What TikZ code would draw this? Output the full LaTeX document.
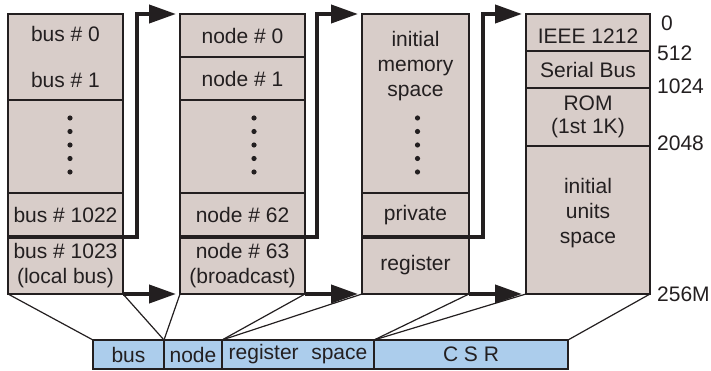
\documentclass[tikz,border=0pt]{standalone}
\usepackage{fontspec}
\setmainfont{Liberation Sans}
\usetikzlibrary{arrows.meta,calc,positioning}
\definecolor{cellfill}{RGB}{216,205,201}
\definecolor{barfill}{RGB}{172,205,236}
\definecolor{ink}{RGB}{35,31,32}

\begin{document}
\begin{tikzpicture}[
  x=1pt, y=-1pt,
  font=\fontsize{21}{25}\selectfont,
  line join=miter,
  cell/.style={rectangle, draw=ink, line width=1.5pt, fill=cellfill, text=ink,
    inner sep=1pt, outer sep=0pt, align=center},
  colA/.style={cell, minimum width=115pt},
  colB/.style={cell, minimum width=125pt},
  colC/.style={cell, minimum width=107pt},
  colD/.style={cell, minimum width=124pt},
  txt/.style={align=center, inner sep=0pt, text=ink},
  field/.style={rectangle, draw=ink, line width=1.5pt, fill=barfill, text=ink,
    minimum height=29pt, inner sep=0pt, outer sep=0pt},
  link/.style={-{Triangle[length=27pt,width=18pt]}, line width=4pt, draw=ink, shorten >=4pt},
  fan/.style={line width=1.2pt, draw=ink},
  addr/.style={anchor=west, text=ink, inner sep=0pt},
]
  \useasboundingbox (0,0) rectangle (711,371);
  % Bus column
  \node[colA, minimum height=86pt, anchor=north west] (bus0) at (8,14) {bus \# 0\\[21pt]bus \# 1};
  \node[colA, minimum height=93pt, below=0pt of bus0] (busdots) {};
  \node[colA, minimum height=44pt, below=0pt of busdots] (bus1022) {bus \# 1022};
  \node[colA, minimum height=57pt, below=0pt of bus1022] (bus1023) {bus \# 1023\\(local bus)};
  % Node column
  \node[colB, minimum height=43pt, anchor=north west] (node0) at (180,14) {node \# 0};
  \node[colB, minimum height=43pt, below=0pt of node0] (node1) {node \# 1};
  \node[colB, minimum height=93pt, below=0pt of node1] (nodedots) {};
  \node[colB, minimum height=44pt, below=0pt of nodedots] (node62) {node \# 62};
  \node[colB, minimum height=57pt, below=0pt of node62] (node63) {node \# 63\\(broadcast)};
  % Address space column
  \node[colC, minimum height=179pt, anchor=north west] (memspace) at (362,14) {};
  \node[txt, anchor=north] (memtext) at ($(memspace.north)+(0,17)$) {initial\\memory\\space};
  \node[colC, minimum height=44pt, below=0pt of memspace] (private) {private};
  \node[colC, minimum height=57pt, below=0pt of private] (register) {register};
  % CSR column
  \node[colD, minimum height=37pt, anchor=north west] (ieee) at (526,14) {};
  \node[txt] (ieeetext) at ($(ieee.center)+(0,4)$) {IEEE 1212};
  \node[colD, minimum height=37pt, below=0pt of ieee] (serial) {Serial Bus};
  \node[colD, minimum height=58pt, below=0pt of serial] (rom) {ROM\\[-2pt](1st 1K)};
  \node[colD, minimum height=148pt, below=0pt of rom] (units) {};
  \node[txt] (unitstext) at ($(units.center)+(0,-7)$) {initial\\units\\space};
  % Dots
  \foreach \c/\dx in {busdots/4.5, nodedots/11.5, memspace/2}
    \foreach \k in {0,...,4}
      \fill[ink] ($(\c.south)+(\dx,-21-13.5*\k)$) circle (2.6pt);
  % Offsets
  \node[addr] (a0) at (661,23) {0};
  \node[addr] (a512) at (657,53) {512};
  \node[addr] (a1024) at (657,86) {1024};
  \node[addr] (a2048) at (657,143) {2048};
  \node[addr] (a256m) at (657,294) {256M};
  % Address fields
  \node[field, minimum width=71pt, anchor=north west] (fbus) at (93,340) {bus};
  \node[field, minimum width=58pt, right=0pt of fbus] (fnode) {node};
  \node[field, minimum width=152pt, right=0pt of fnode] (freg) {register\hspace{0.6em}space};
  \node[field, minimum width=194pt, right=0pt of freg] (fcsr) {C S R};
  % Arrows between columns
  \draw[link] (bus1023.north west) -- ($(bus1023.north east)+(14,0)$) |- (node0.north west);
  \draw[link] (node63.north west) -- ($(node63.north east)+(12,0)$) |- (memspace.north west);
  \draw[link] (register.north west) -- ($(register.north east)+(14,0)$) |- (ieee.north west);
  \draw[link] (bus1023.south east) -- (node63.south west);
  \draw[link] (node63.south east) -- (register.south west);
  \draw[link] (register.south east) -- (units.south west);
  % Fan lines to the fields
  \draw[fan] (bus1023.south west) -- (fbus.north west);
  \draw[fan] (bus1023.south east) -- (fbus.north east);
  \draw[fan] (node63.south west) -- (fnode.north west);
  \draw[fan] (node63.south east) -- (freg.north west);
  \draw[fan] (register.south west) -- (freg.north west);
  \draw[fan] (register.south east) -- (fcsr.north west);
  \draw[fan] (units.south west) -- (fcsr.north west);
  \draw[fan] (units.south east) -- (fcsr.north east);
\end{tikzpicture}
\end{document}
